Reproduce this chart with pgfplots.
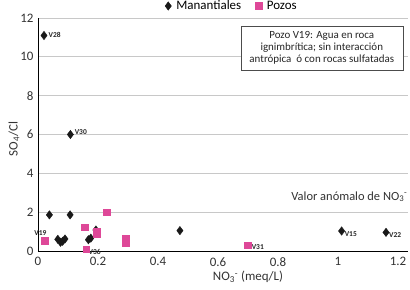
\documentclass[border=0pt]{standalone}
\usepackage{pgfplots}
\pgfplotsset{compat=1.18}
\usepackage{fontspec}
\setmainfont{Carlito}
\definecolor{pozo}{RGB}{222,72,152}
\definecolor{gridc}{RGB}{200,200,200}
\begin{document}
\begin{tikzpicture}
\begin{axis}[
  at={(38bp,39bp)}, anchor=south west,
  scale only axis, width=370bp, height=233bp,
  xmin=0, xmax=1.2333, ymin=0, ymax=12,
  xtick={0,0.2,0.4,0.6,0.8,1,1.2},
  ytick={0,2,4,6,8,10,12},
  xticklabels={0,0.2,0.4,0.6,0.8,1,1.2},
  ymajorgrids, grid style={gridc, line width=0.8pt},
  axis x line*=bottom, axis y line*=left,
  axis line style={black, line width=1pt, -},
  major tick length=0pt,
  ticklabel style={font=\fontsize{13}{15}\selectfont, text=black!80},
  /pgf/number format/assume math mode=true,
  xticklabel style={inner sep=1bp, yshift=-5.3bp},
  yticklabel style={xshift=-1bp},
  clip=false,
  legend columns=2,
  legend style={draw=none, fill=none, at={(0.524,1.0515)}, anchor=center,
    font=\fontsize{13}{15}\selectfont, column sep=3bp, inner sep=0pt,
    /tikz/every even column/.append style={column sep=12bp}},
  legend image code/.code={\draw[#1] plot coordinates {(0.12cm,0cm)};},
]
\addplot[only marks, mark=diamond*, mark size=4.2bp, color=black!90] coordinates {
(0.02,11.1) (0.108,6.0) (0.038,1.86) (0.107,1.86)
(0.066,0.6) (0.075,0.45) (0.082,0.5) (0.09,0.62)
(0.168,0.58) (0.176,0.66) (0.193,1.08) (0.473,1.05)
(1.012,1.03) (1.16,0.96)
};
\addlegendentry{Manantiales}
\addplot[only marks, mark=square*, mark size=3.3bp, color=pozo] coordinates {
(0.023,0.52) (0.155,1.22) (0.16,0.1) (0.196,1.0) (0.196,0.9)
(0.228,2.0) (0.292,0.63) (0.292,0.42) (0.699,0.3)
};
\addlegendentry{Pozos}
\tikzset{lab/.style={font=\fontsize{7.5}{8}\selectfont\bfseries, text=black!85, inner sep=0pt}}
\node[lab, anchor=west] at (axis cs:0.035,11.15) {V28};
\node[lab, anchor=west] at (axis cs:0.122,6.1) {V30};
\node[lab, anchor=south] at (axis cs:0.008,0.78) {V19};
\node[lab, anchor=west] at (axis cs:0.168,-0.06) {V36};
\node[lab, anchor=west] at (axis cs:0.712,0.22) {V31};
\node[lab, anchor=west] at (axis cs:1.022,0.85) {V15};
\node[lab, anchor=west] at (axis cs:1.17,0.8) {V22};
\node[font=\fontsize{12.5}{14}\selectfont, text=black!80, anchor=east, inner sep=0pt] at (axis cs:1.232,2.8)
  {Valor anómalo de NO\textsubscript{3}\textsuperscript{-}};
\node[draw=black!70, fill=white, align=center, font=\fontsize{11}{12}\selectfont,
  text=black!85, inner sep=2bp, minimum width=162bp, minimum height=44bp]
  at (rel axis cs:0.767,0.8725)
  {Pozo V19: Agua en roca\\ ignimbrítica; sin interacción\\ antrópica\ \ ó con rocas sulfatadas};
\end{axis}
\node[rotate=90, font=\fontsize{13}{15}\selectfont, text=black!80] at (14bp,151bp) {SO\textsubscript{4}/Cl};
\node[font=\fontsize{13}{15}\selectfont, text=black!80] at (248bp,13bp)
  {NO\textsubscript{3}\textsuperscript{-} (meq/L)};
\pgfresetboundingbox
\useasboundingbox (0,0) rectangle (410bp,290bp);
\end{tikzpicture}
\end{document}
